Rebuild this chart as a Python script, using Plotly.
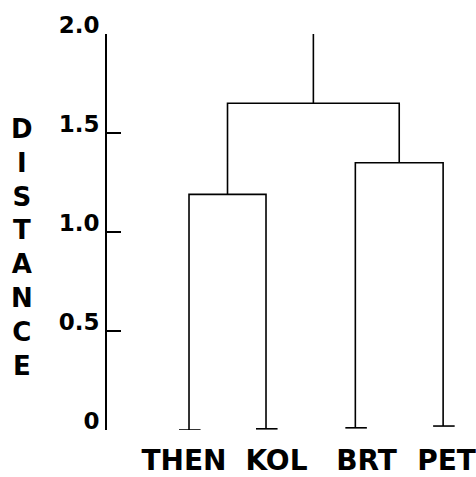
import plotly.graph_objects as go

# ---- data ----
leaves = ["THEN", "KOL", "BRT", "PET"]
leaf_x = [1.0, 2.0, 3.16, 4.30]          # leaf positions along x
leaf_base = [0.0, 0.006, 0.011, 0.02]    # leaf foot heights
label_x = [0.935, 2.136, 3.305, 4.344]   # label centres
merges = [(0, 1), (2, 3), (4, 5)]        # node 4 = THEN+KOL, 5 = BRT+PET, 6 = root
merge_heights = [1.19, 1.35, 1.65]
root_top = 2.0
y_tickvals = [0, 0.5, 1.0, 1.5, 2.0]
y_ticktext = ["0", "0.5", "1.0", "1.5", "2.0"]

# ---- build dendrogram segments ----
node_x = list(leaf_x)
node_bottom = list(leaf_base)
xs, ys = [], []
for (a, b), h in zip(merges, merge_heights):
    xa, xb = node_x[a], node_x[b]
    xs += [xa, xa, xb, xb, None]
    ys += [node_bottom[a], h, h, node_bottom[b], None]
    node_x.append((xa + xb) / 2)
    node_bottom.append(h)
xs += [node_x[-1], node_x[-1], None]
ys += [node_bottom[-1], root_top, None]

fx, fy = [], []
half = 0.14
for x, b in zip(leaf_x, leaf_base):
    fx += [x - half + 0.01, x + half + 0.01, None]
    fy += [b, b, None]

fig = go.Figure()
fig.add_trace(go.Scatter(x=xs, y=ys, mode="lines",
                         line=dict(color="black", width=1.6),
                         cliponaxis=False, hoverinfo="skip"))
fig.add_trace(go.Scatter(x=fx, y=fy, mode="lines",
                         line=dict(color="black", width=1.6),
                         cliponaxis=False, hoverinfo="skip"))

bold = dict(family="DejaVu Sans", color="black", weight="bold")

fig.update_layout(
    width=476, height=477,
    margin=dict(l=107, r=0, t=34, b=42),
    paper_bgcolor="white", plot_bgcolor="white",
    showlegend=False,
    xaxis=dict(range=[-0.065, 4.727], showgrid=False, zeroline=False,
               showline=False, ticks="",
               tickvals=label_x, ticktext=leaves,
               tickfont=dict(size=28, **bold),
               ticklabelstandoff=11),
    yaxis=dict(range=[0, 2], showgrid=False, zeroline=False,
               showline=True, linecolor="black", linewidth=1.8,
               ticks="inside", ticklen=14, tickwidth=1.8, tickcolor="black",
               tickvals=y_tickvals, ticktext=y_ticktext,
               tickfont=dict(size=23, **bold),
               ticklabelstandoff=1, ticklabelshift=-9),
    annotations=[dict(text="D<br>I<br>S<br>T<br>A<br>N<br>C<br>E",
                      xref="paper", yref="paper", x=-0.2304, y=0.462,
                      xanchor="center", yanchor="middle", showarrow=False,
                      font=dict(size=26, **bold))],
)

fig.write_html("out.html")
